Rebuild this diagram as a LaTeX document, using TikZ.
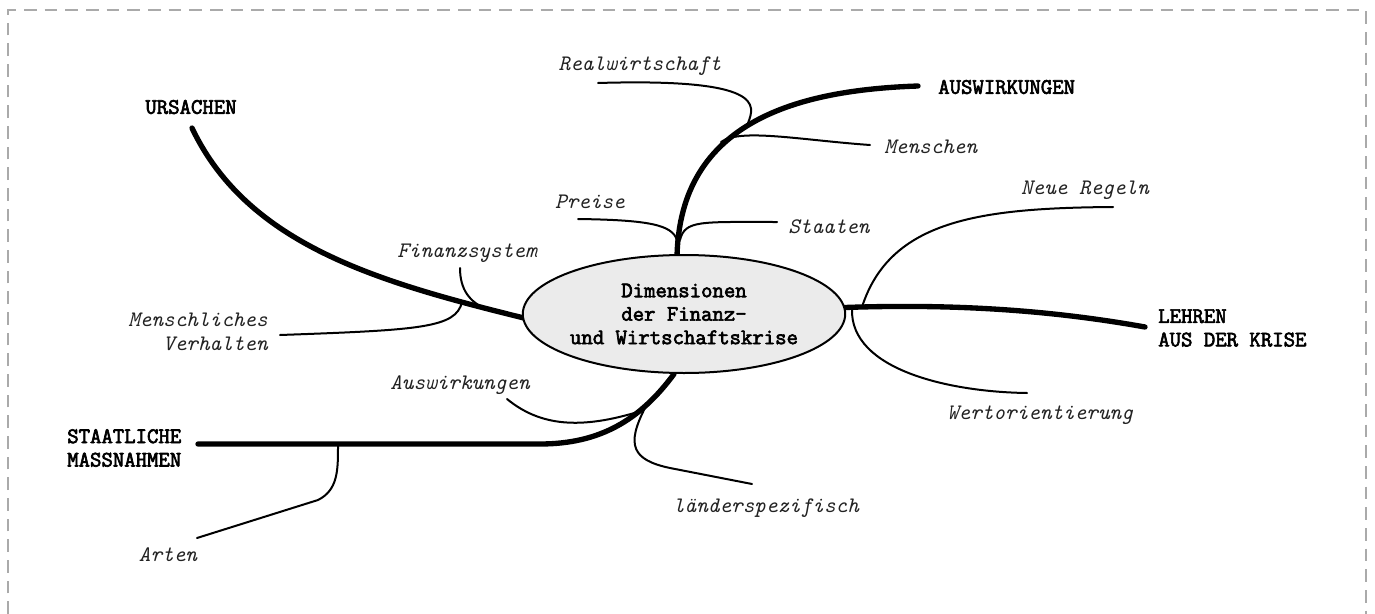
\documentclass[tikz,border=0pt]{standalone}
\usepackage{fontspec}
\newfontfamily\lmbold{Latin Modern Mono}[FakeBold=3]
\usetikzlibrary{shapes.geometric,backgrounds}
\definecolor{bordergray}{HTML}{AAAAAA}
\definecolor{ellfill}{HTML}{EBEBEB}
\definecolor{subtext}{HTML}{222222}
\tikzset{
  mainlabel/.style={font=\lmbold\fontsize{16.6}{17.6}\selectfont, text=black, inner sep=0pt},
  sublabel/.style={font=\ttfamily\itshape\fontsize{16.6}{18.4}\selectfont, text=subtext, inner sep=0pt},
  thickbranch/.style={line width=4pt, line cap=round, black},
  thinbranch/.style={line width=1.5pt, line cap=round, black},
}
\begin{document}
\begin{tikzpicture}[x=0.75pt,y=-0.75pt]
\useasboundingbox (0,0) rectangle (1375,614);
\draw[bordergray, line width=1.5pt, dash pattern=on 9.5pt off 6pt] (8,614) -- (8,10) -- (1366,10) -- (1366,614);

% centre
\node[ellipse, draw, line width=1.5pt, fill=ellfill, minimum width=226.5pt, minimum height=88.5pt, inner sep=0pt,
      font=\lmbold\fontsize{16.6}{17.6}\selectfont, align=center] (c) at (684,314)
      {Dimensionen\\der Finanz-\\und Wirtschaftskrise};

% labels
\node[mainlabel] (urs) at (191,107) {URSACHEN};
\node[mainlabel, anchor=west] (ausw) at (938,87) {AUSWIRKUNGEN};
\node[mainlabel, anchor=west, align=left] (lehr) at (1158,328) {LEHREN\\AUS DER KRISE};
\node[mainlabel, anchor=west, align=left] (staat) at (67,448) {STAATLICHE\\MASSNAHMEN};

\node[sublabel] (real) at (640,66) {Realwirtschaft};
\node[sublabel, anchor=west] (mensch) at (884,147) {Menschen};
\node[sublabel] (preise) at (590,202) {Preise};
\node[sublabel, anchor=west] (staaten) at (788,227) {Staaten};
\node[sublabel] (regeln) at (1085,190) {Neue Regeln};
\node[sublabel] (fin) at (467,253) {Finanzsystem};
\node[sublabel, anchor=east, align=right] (verh) at (268,332) {Menschliches\\Verhalten};
\node[sublabel] (ausw2) at (460,385) {Auswirkungen};
\node[sublabel] (wert) at (1040,415) {Wertorientierung};
\node[sublabel] (land) at (766,508) {länderspezifisch};
\node[sublabel] (arten) at (168,555) {Arten};

% branch end points
\coordinate (urs1) at (192,128);
\coordinate (urs0) at (540,322);
\coordinate (ausw1) at (918,86);
\coordinate (ausw0) at (677,258);
\coordinate (lehr1) at (1145,327);
\coordinate (lehr0) at (832,308);
\coordinate (staat1) at (198,444);
\coordinate (staat0) at (674,374);

\coordinate (fin1) at (460,268);
\coordinate (fin0) at (486,309);
\coordinate (verh1) at (280,335);
\coordinate (verh0) at (462,302);
\coordinate (real1) at (598,83);
\coordinate (real0) at (748,123);
\coordinate (mensch1) at (870,145);
\coordinate (mensch0) at (721,142);
\coordinate (preise1) at (578,219);
\coordinate (preise0) at (677,240);
\coordinate (staaten1) at (777,222);
\coordinate (staaten0) at (680,240);
\coordinate (regeln1) at (1113,207);
\coordinate (regeln0) at (862,307);
\coordinate (wert1) at (1027,393);
\coordinate (wert0) at (852,309);
\coordinate (ausw21) at (507,399);
\coordinate (ausw20) at (641,411);
\coordinate (land1) at (752,484);
\coordinate (land0) at (645,408);
\coordinate (arten1) at (197,538);
\coordinate (arten0) at (338,446);

\begin{pgfonlayer}{background}
% thick branches
\draw[thickbranch] (urs1) .. controls (250,250) and (390,285) .. (urs0);
\draw[thickbranch] (ausw0) .. controls (679,120) and (800,90) .. (ausw1);
\draw[thickbranch] (lehr0) .. controls (950,303) and (1050,310) .. (lehr1);
\draw[thickbranch] (staat1) -- (540,444) .. controls (600,444) and (640,420) .. (staat0);

% thin branches
\draw[thinbranch] (fin1) .. controls (460,290) and (470,302) .. (fin0);
\draw[thinbranch] (verh1) .. controls (420,330) and (456,328) .. (verh0);
\draw[thinbranch] (real1) .. controls (765,78) and (755,105) .. (real0);
\draw[thinbranch] (mensch0) .. controls (740,128) and (800,140) .. (mensch1);
\draw[thinbranch] (preise1) .. controls (650,220) and (672,225) .. (preise0);
\draw[thinbranch] (staaten0) .. controls (685,220) and (700,222) .. (staaten1);
\draw[thinbranch] (regeln0) .. controls (890,220) and (980,208) .. (regeln1);
\draw[thinbranch] (wert0) .. controls (850,370) and (950,392) .. (wert1);
\draw[thinbranch] (ausw21) .. controls (540,426) and (580,430) .. (ausw20);
\draw[thinbranch] (land0) .. controls (626,445) and (632,460) .. (670,468) -- (land1);
\draw[thinbranch] (arten1) -- (318,500) .. controls (338,490) and (338,470) .. (arten0);
\end{pgfonlayer}
\end{tikzpicture}
\end{document}
